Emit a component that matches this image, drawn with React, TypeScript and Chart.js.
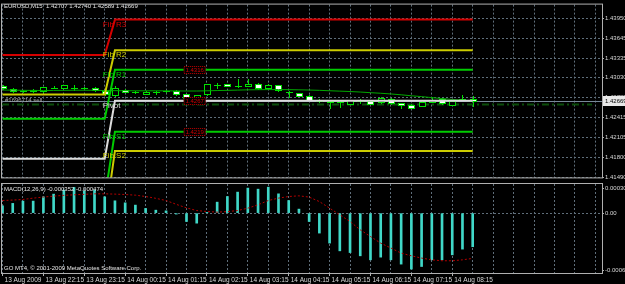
import React, { useEffect, useRef } from 'react';
import { Chart, registerables } from 'chart.js';

Chart.register(...registerables);

// ---------------- data ----------------
const symbol = 'EURUSD';
const timeframe = 'M15';
const timeLabels = [
  '13 Aug 2009', '13 Aug 22:15', '13 Aug 23:15', '14 Aug 00:15', '14 Aug 01:15', '14 Aug 02:15',
  '14 Aug 03:15', '14 Aug 04:15', '14 Aug 05:15', '14 Aug 06:15', '14 Aug 07:15', '14 Aug 08:15',
];
const timeLabelStep = 4; // one label per hour (4 bars of 15 min)
const gridStep = 2;

const opens = [
  1.42900, 1.42855, 1.42829, 1.42825, 1.42825, 1.42870, 1.42874, 1.42865, 1.42875, 1.42874,
  1.42829, 1.42764, 1.42840, 1.42814, 1.42784, 1.42810, 1.42822, 1.42825, 1.42775, 1.42724,
  1.42775, 1.42918, 1.42926, 1.42905, 1.42904, 1.42930, 1.42865, 1.42915, 1.42810, 1.42790,
  1.42749, 1.42689, 1.42664, 1.42654, 1.42629, 1.42667, 1.42674, 1.42654, 1.42704, 1.42636,
  1.42614, 1.42599, 1.42654, 1.42700, 1.42614, 1.42700, 1.42707,
];
const highs = [
  1.42915, 1.42870, 1.42847, 1.42850, 1.42892, 1.42895, 1.42925, 1.42915, 1.42890, 1.42885,
  1.42840, 1.42905, 1.42855, 1.42829, 1.42825, 1.42825, 1.42835, 1.42835, 1.42785, 1.42770,
  1.42935, 1.42945, 1.42940, 1.43016, 1.43016, 1.42945, 1.42930, 1.42923, 1.42825, 1.42794,
  1.42757, 1.42697, 1.42682, 1.42667, 1.42689, 1.42704, 1.42682, 1.42727, 1.42719, 1.42644,
  1.42629, 1.42667, 1.42739, 1.42712, 1.42674, 1.42764, 1.42740,
];
const lows = [
  1.42855, 1.42810, 1.42810, 1.42815, 1.42817, 1.42865, 1.42870, 1.42840, 1.42860, 1.42830,
  1.42764, 1.42749, 1.42805, 1.42800, 1.42779, 1.42775, 1.42810, 1.42770, 1.42720, 1.42715,
  1.42765, 1.42874, 1.42895, 1.42889, 1.42900, 1.42855, 1.42855, 1.42825, 1.42739, 1.42749,
  1.42682, 1.42654, 1.42569, 1.42584, 1.42621, 1.42644, 1.42621, 1.42644, 1.42629, 1.42554,
  1.42557, 1.42591, 1.42647, 1.42629, 1.42606, 1.42682, 1.42589,
];
const closes = [
  1.42865, 1.42825, 1.42827, 1.42840, 1.42880, 1.42875, 1.42915, 1.42868, 1.42872, 1.42835,
  1.42775, 1.42870, 1.42814, 1.42810, 1.42814, 1.42808, 1.42825, 1.42775, 1.42724, 1.42764,
  1.42926, 1.42915, 1.42900, 1.42910, 1.42941, 1.42865, 1.42915, 1.42840, 1.42805, 1.42754,
  1.42689, 1.42664, 1.42660, 1.42651, 1.42679, 1.42664, 1.42629, 1.42715, 1.42639, 1.42606,
  1.42564, 1.42654, 1.42689, 1.42639, 1.42664, 1.42707, 1.42669,
];
const maValues = [
  1.42840, 1.42838, 1.42835, 1.42834, 1.42832, 1.42834, 1.42835, 1.42837, 1.42837, 1.42836,
  1.42832, 1.42831, 1.42829, 1.42828, 1.42828, 1.42828, 1.42827, 1.42826, 1.42825, 1.42825,
  1.42828, 1.42832, 1.42835, 1.42839, 1.42843, 1.42845, 1.42847, 1.42847, 1.42846, 1.42843,
  1.42840, 1.42835, 1.42829, 1.42823, 1.42817, 1.42809, 1.42799, 1.42790, 1.42779, 1.42766,
  1.42751, 1.42738, 1.42722, 1.42708, 1.42694, 1.42681, 1.42670,
];

const dayStartIndex = 11; // first bar of 14 Aug
const levelNames = ['Fib R3', 'Fib R2', 'Fib R1', 'Pivot', 'Fib S1', 'Fib S2'];
const prevDayLevels = [1.43382, 1.42772, 1.42395, 1.41775, 1.41161, 1.40782];
const todayLevels = [1.43932, 1.43457, 1.43156, 1.42674, 1.42192, 1.41895];
const boxedLevels = [2, 3, 4];

const priceTicks = [1.41490, 1.41800, 1.42105, 1.42415, 1.42725, 1.43030, 1.43335, 1.43645, 1.43950];
const priceMin = 1.41485;
const priceMax = 1.44165;

const orderLabel = '#1696714 sell';
const orderPrice = 1.42624;

const macdName = 'MACD(12,26,9)';
const macdMain = [
  0.000076, 0.000102, 0.000126, 0.000126, 0.000171, 0.000199, 0.000241, 0.000269, 0.000233, 0.000241,
  0.000171, 0.000129, 0.000108, 0.000084, 0.000049, 0.000031, 0.000024, -0.000010, -0.000088, -0.000105,
  0.000008, 0.000115, 0.000174, 0.000220, 0.000262, 0.000251, 0.000272, 0.000202, 0.000132, 0.000042,
  -0.000088, -0.000209, -0.000314, -0.000395, -0.000413, -0.000447, -0.000489, -0.000461, -0.000489, -0.000534,
  -0.000586, -0.000559, -0.000489, -0.000489, -0.000437, -0.000377, -0.000352,
];
const macdSignal = [
  0.000132, 0.000137, 0.000143, 0.000157, 0.000168, 0.000178, 0.000186, 0.000192, 0.000197, 0.000202,
  0.000202, 0.000199, 0.000195, 0.000188, 0.000174, 0.000155, 0.000132, 0.000092, 0.000055, 0.000027,
  0.000017, 0.000010, 0.000016, 0.000027, 0.000052, 0.000087, 0.000132, 0.000157, 0.000174, 0.000181,
  0.000168, 0.000121, 0.000052, -0.000018, -0.000088, -0.000175, -0.000245, -0.000314, -0.000366, -0.000419,
  -0.000447, -0.000471, -0.000489, -0.000499, -0.000499, -0.000489, -0.000474,
];
const macdTicks = [0.000305, 0, -0.000627];
const copyrightText = 'GO MT4, \u00A9 2001-2009 MetaQuotes Software Corp.';

// ---------------- style ----------------
const FONT = '"Liberation Sans", Arial, sans-serif';
const BG = '#000000';
const GRID = '#5f6e7a';
const FRAME = '#b0b0b0';
const TEXT = '#d8d8d8';
const CANDLE = '#00e000';
const levelColors = ['#d40000', '#cccc00', '#00cc00', '#dcdcdc', '#00cc00', '#cccc00'];
const X_MIN = -0.05;
const X_MAX = 58.65;

const barIdx = closes.map((_, i) => i);
const gridTicks: number[] = [];
for (let v = 0; v <= X_MAX; v += gridStep) gridTicks.push(v);

function frame(chart: any) {
  const { ctx, chartArea: a } = chart;
  ctx.save();
  ctx.strokeStyle = FRAME;
  ctx.lineWidth = 1;
  ctx.strokeRect(a.left - 0.5, a.top - 0.5, a.right - a.left + 1, a.bottom - a.top + 1);
  ctx.restore();
}

const topPlugin = {
  id: 'mt4price',
  beforeDraw(chart: any) {
    const { ctx, width, height } = chart;
    ctx.save();
    ctx.fillStyle = BG;
    ctx.fillRect(0, 0, width, height);
    ctx.restore();
  },
  beforeDatasetsDraw(chart: any) {
    const { ctx, chartArea: a } = chart;
    const xs = chart.scales.x;
    const ys = chart.scales.y;
    ctx.save();
    ctx.beginPath();
    ctx.rect(a.left, a.top, a.right - a.left, a.bottom - a.top);
    ctx.clip();
    // order line (dash-dot)
    const oy = Math.round(ys.getPixelForValue(orderPrice)) + 0.5;
    ctx.strokeStyle = '#0a4d0a';
    ctx.lineWidth = 2;
    ctx.setLineDash([7, 3, 2, 3]);
    ctx.beginPath();
    ctx.moveTo(a.left, oy);
    ctx.lineTo(a.right - 10, oy);
    ctx.stroke();
    ctx.setLineDash([]);
    // bid line
    const by = Math.round(ys.getPixelForValue(closes[closes.length - 1])) + 0.5;
    ctx.strokeStyle = '#778899';
    ctx.lineWidth = 1;
    ctx.beginPath();
    ctx.moveTo(a.left, by);
    ctx.lineTo(a.right, by);
    ctx.stroke();
    // candles
    for (let i = 0; i < closes.length; i++) {
      const x = Math.round(xs.getPixelForValue(i)) + 0.5;
      const yo = Math.round(ys.getPixelForValue(opens[i]));
      const yc = Math.round(ys.getPixelForValue(closes[i]));
      const yh = Math.round(ys.getPixelForValue(highs[i]));
      const yl = Math.round(ys.getPixelForValue(lows[i]));
      ctx.strokeStyle = CANDLE;
      ctx.lineWidth = 1;
      ctx.beginPath();
      ctx.moveTo(x, yh);
      ctx.lineTo(x, yl + 1);
      ctx.stroke();
      const top = Math.min(yo, yc);
      const bot = Math.max(yo, yc);
      if (bot - top < 1) {
        ctx.beginPath();
        ctx.moveTo(x - 3.5, top + 0.5);
        ctx.lineTo(x + 3.5, top + 0.5);
        ctx.stroke();
      } else {
        ctx.fillStyle = closes[i] >= opens[i] ? '#000000' : '#ffffff';
        ctx.fillRect(x - 3, top + 0.5, 6, bot - top);
        ctx.strokeRect(x - 3, top + 0.5, 6, bot - top);
      }
    }
    ctx.restore();
  },
  afterDatasetsDraw(chart: any) {
    const { ctx, chartArea: a } = chart;
    const xs = chart.scales.x;
    const ys = chart.scales.y;
    ctx.save();
    // level names
    ctx.font = `8px ${FONT}`;
    ctx.textBaseline = 'top';
    ctx.textAlign = 'left';
    const lx = xs.getPixelForValue(dayStartIndex - 1) - 2;
    levelNames.forEach((name, k) => {
      const y = ys.getPixelForValue(todayLevels[k]);
      if (y > a.bottom) return;
      ctx.fillStyle = levelColors[k];
      ctx.fillText(name, lx, y + 1);
    });
    // red boxed level values
    ctx.font = `6px ${FONT}`;
    ctx.textAlign = 'center';
    ctx.textBaseline = 'middle';
    const bx = xs.getPixelForValue(18.8);
    boxedLevels.forEach((k) => {
      const y = Math.round(ys.getPixelForValue(todayLevels[k]));
      ctx.fillStyle = '#000000';
      ctx.fillRect(bx - 11, y - 4, 22, 8);
      ctx.strokeStyle = '#c00000';
      ctx.lineWidth = 1;
      ctx.setLineDash([1, 1]);
      ctx.strokeRect(bx - 10.5, y - 3.5, 21, 7);
      ctx.setLineDash([]);
      ctx.fillStyle = '#d00000';
      ctx.fillText(todayLevels[k].toFixed(4), bx, y + 0.5);
    });
    // order label
    ctx.textAlign = 'left';
    ctx.textBaseline = 'alphabetic';
    ctx.font = `6px ${FONT}`;
    ctx.fillStyle = '#a8a8a8';
    ctx.fillText(orderLabel, 5, ys.getPixelForValue(orderPrice) - 1.5);
    // header
    const last = closes.length - 1;
    ctx.fillStyle = '#e6e6e6';
    ctx.textBaseline = 'middle';
    ctx.fillText(
      `${symbol},${timeframe}  ${opens[last].toFixed(5)} ${highs[last].toFixed(5)} ${lows[last].toFixed(5)} ${closes[last].toFixed(5)}`,
      4, 6.5,
    );
    ctx.restore();
  },
  afterDraw(chart: any) {
    frame(chart);
    const { ctx, chartArea: a } = chart;
    const ys = chart.scales.y;
    const last = closes[closes.length - 1];
    const y = Math.round(ys.getPixelForValue(last));
    ctx.save();
    ctx.fillStyle = '#e8e8e8';
    ctx.fillRect(a.right + 1, y - 5, 30, 10);
    ctx.fillStyle = '#000000';
    ctx.font = `6px ${FONT}`;
    ctx.textBaseline = 'middle';
    ctx.textAlign = 'left';
    ctx.fillText(last.toFixed(5), a.right + 3, y + 0.5);
    ctx.restore();
  },
};

const macdPlugin = {
  id: 'mt4macd',
  beforeDraw(chart: any) {
    const { ctx, width, height } = chart;
    ctx.save();
    ctx.fillStyle = BG;
    ctx.fillRect(0, 0, width, height);
    ctx.restore();
  },
  afterDraw(chart: any) {
    frame(chart);
    const { ctx, chartArea: a } = chart;
    const ys = chart.scales.y;
    const last = macdMain.length - 1;
    ctx.save();
    ctx.font = `6px ${FONT}`;
    ctx.fillStyle = '#e6e6e6';
    ctx.textAlign = 'left';
    ctx.textBaseline = 'middle';
    ctx.fillText(`${macdName} ${macdMain[last].toFixed(6)} ${macdSignal[last].toFixed(6)}`, 4, 7.5);
    ctx.fillText(copyrightText, 4, a.bottom - 5);
    // scale labels
    ctx.fillStyle = TEXT;
    ctx.strokeStyle = FRAME;
    macdTicks.forEach((v) => {
      let y = ys.getPixelForValue(v);
      if (v === ys.max) y = a.top + 3.5;
      else if (v === ys.min) y = a.bottom - 3.5;
      y = Math.round(y) + 0.5;
      ctx.beginPath();
      ctx.moveTo(a.right, y);
      ctx.lineTo(a.right + 2, y);
      ctx.stroke();
      ctx.fillText(v === 0 ? '0.00' : v.toFixed(6), a.right + 3, y);
    });
    ctx.restore();
  },
};

function topConfig(): any {
  return {
    type: 'line',
    data: {
      datasets: [
        ...levelNames.map((name, k) => ({
          label: name,
          data: barIdx.map((i) => ({ x: i, y: i < dayStartIndex ? prevDayLevels[k] : todayLevels[k] })),
          borderColor: levelColors[k],
          borderWidth: 2,
          pointRadius: 0,
          tension: 0,
        })),
        {
          label: 'MA',
          data: barIdx.map((i) => ({ x: i, y: maValues[i] })),
          borderColor: '#00a800',
          borderWidth: 1,
          pointRadius: 0,
          tension: 0,
        },
      ],
    },
    options: {
      responsive: false,
      maintainAspectRatio: false,
      devicePixelRatio: 1,
      animation: false,
      events: [],
      layout: { padding: { left: 2, top: 2, right: 0, bottom: 2 } },
      plugins: { legend: { display: false }, tooltip: { enabled: false } },
      scales: {
        x: {
          type: 'linear',
          min: X_MIN,
          max: X_MAX,
          offset: false,
          afterBuildTicks: (s: any) => { s.ticks = gridTicks.map((v) => ({ value: v })); },
          afterFit: (s: any) => { s.height = 0; },
          ticks: { display: false },
          grid: { color: GRID, drawTicks: false, offset: false },
          border: { display: false, dash: [2, 2] },
        },
        y: {
          type: 'linear',
          position: 'right',
          min: priceMin,
          max: priceMax,
          afterBuildTicks: (s: any) => { s.ticks = priceTicks.map((v) => ({ value: v })); },
          afterFit: (s: any) => { s.width = 23; },
          ticks: {
            color: TEXT,
            font: { family: FONT, size: 6 },
            padding: 1,
            autoSkip: false,
            callback: (v: any) => Number(v).toFixed(5),
          },
          grid: { color: GRID, tickColor: FRAME, tickLength: 2, tickBorderDash: [] },
          border: { display: false, dash: [2, 2] },
        },
      },
    },
    plugins: [topPlugin],
  };
}

function macdConfig(): any {
  return {
    type: 'line',
    data: {
      datasets: [
        {
          type: 'line',
          label: 'Signal',
          data: barIdx.map((i) => ({ x: i, y: macdSignal[i] })),
          borderColor: '#b40000',
          borderWidth: 1,
          borderDash: [2, 2],
          pointRadius: 0,
          tension: 0,
        },
        {
          type: 'bar',
          label: 'MACD',
          data: barIdx.map((i) => ({ x: i, y: macdMain[i] })),
          backgroundColor: '#40d8c8',
          barThickness: 2,
        },
      ],
    },
    options: {
      responsive: false,
      maintainAspectRatio: false,
      devicePixelRatio: 1,
      animation: false,
      events: [],
      layout: { padding: { left: 2, top: 2, right: 0, bottom: 0 } },
      plugins: { legend: { display: false }, tooltip: { enabled: false } },
      scales: {
        x: {
          type: 'linear',
          min: X_MIN,
          max: X_MAX,
          offset: false,
          afterBuildTicks: (s: any) => { s.ticks = gridTicks.map((v) => ({ value: v })); },
          afterFit: (s: any) => { s.height = 11; },
          ticks: {
            autoSkip: false,
            maxRotation: 0,
            minRotation: 0,
            align: 'start',
            labelOffset: 2,
            padding: 0,
            color: TEXT,
            font: { family: FONT, size: 6.5 },
            callback: (v: any) => {
              const n = Number(v);
              return n % timeLabelStep === 0 && n / timeLabelStep < timeLabels.length ? timeLabels[n / timeLabelStep] : '';
            },
          },
          grid: {
            color: GRID,
            offset: false,
            tickLength: 3,
            tickBorderDash: [],
            tickColor: (c: any) => {
              const n = c.tick ? c.tick.value : -1;
              return n % timeLabelStep === 0 && n / timeLabelStep < timeLabels.length ? FRAME : 'rgba(0,0,0,0)';
            },
          },
          border: { display: false, dash: [2, 2] },
        },
        y: {
          type: 'linear',
          position: 'right',
          min: macdTicks[2],
          max: macdTicks[0],
          afterBuildTicks: (s: any) => { s.ticks = [{ value: macdTicks[1] }]; },
          afterFit: (s: any) => { s.width = 23; },
          ticks: { display: false },
          grid: { color: GRID, drawTicks: false },
          border: { display: false, dash: [2, 2] },
        },
      },
    },
    plugins: [macdPlugin],
  };
}

export default function App() {
  const topRef = useRef<HTMLCanvasElement>(null);
  const macdRef = useRef<HTMLCanvasElement>(null);
  useEffect(() => {
    const c1 = new Chart(topRef.current as HTMLCanvasElement, topConfig());
    const c2 = new Chart(macdRef.current as HTMLCanvasElement, macdConfig());
    return () => {
      c1.destroy();
      c2.destroy();
    };
  }, []);
  return (
    <div style={{ position: 'fixed', left: 0, top: 0, width: 625, height: 284, background: '#000', overflow: 'hidden' }}>
      <canvas ref={topRef} width={625} height={182} style={{ position: 'absolute', left: 0, top: 0, width: 625, height: 182 }} />
      <canvas ref={macdRef} width={625} height={102} style={{ position: 'absolute', left: 0, top: 182, width: 625, height: 102 }} />
    </div>
  );
}
